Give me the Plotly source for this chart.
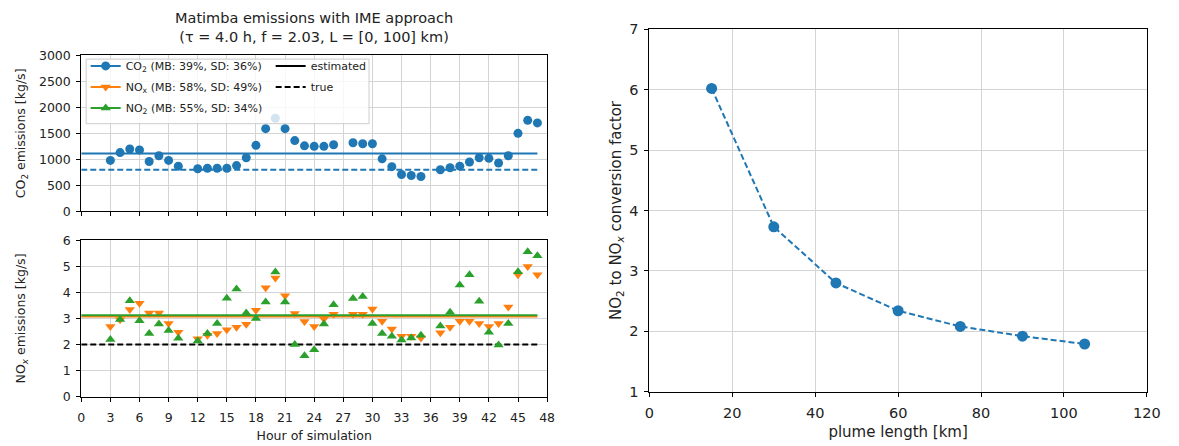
import plotly.graph_objects as go

# ---- data -------------------------------------------------------------
hours = [3, 4, 5, 6, 7, 8, 9, 10,
         12, 13, 14, 15, 16, 17, 18, 19, 20, 21, 22, 23, 24, 25, 26,
         28, 29, 30, 31, 32, 33, 34, 35,
         37, 38, 39, 40, 41, 42, 43, 44, 45, 46, 47]

co2_emis = [980, 1130, 1200, 1180, 960, 1070, 980, 870,
            820, 830, 830, 830, 880, 1030, 1270, 1590, 1790, 1590, 1360, 1260, 1250, 1250, 1280,
            1320, 1300, 1300, 1010, 860, 710, 690, 670,
            800, 840, 870, 950, 1030, 1020, 930, 1070, 1500, 1750, 1700]

nox_emis = [2.69, 2.95, 3.34, 3.58, 3.21, 3.21, 2.81, 2.47,
            2.22, 2.35, 2.42, 2.57, 2.66, 2.78, 3.31, 4.18, 4.55, 3.87, 3.19, 2.88, 2.69, 2.98, 3.16,
            3.16, 3.16, 3.36, 2.89, 2.59, 2.32, 2.32, 2.25,
            2.45, 2.66, 2.89, 2.89, 2.81, 2.69, 2.81, 3.44, 4.68, 5.00, 4.68]

no2_emis = [2.19, 2.96, 3.68, 2.91, 2.42, 2.79, 2.54, 2.24,
            2.13, 2.42, 2.81, 3.78, 4.13, 3.21, 3.00, 3.63, 4.78, 3.63, 2.00, 1.57, 1.80, 2.79, 3.53,
            3.77, 3.84, 2.81, 2.42, 2.32, 2.17, 2.25, 2.35,
            2.71, 3.24, 4.28, 4.68, 3.66, 2.47, 1.98, 2.81, 4.79, 5.56, 5.41]

co2_estimated = 1112
co2_true = 800
nox_estimated = 3.07
no2_estimated = 3.12
nox_true = 2.0
line_span = [0, 47]

plume_length = [15, 30, 45, 60, 75, 90, 105]
conversion_factor = [6.02, 3.73, 2.80, 2.34, 2.08, 1.92, 1.79]

legend_labels = {
    "co2": "CO<sub>2</sub> (MB: 39%, SD: 36%)",
    "nox": "NO<sub>x</sub> (MB: 58%, SD: 49%)",
    "no2": "NO<sub>2</sub> (MB: 55%, SD: 34%)",
}

hour_ticks = list(range(0, 49, 3))

# ---- style ------------------------------------------------------------
W, H = 1179, 446
C_CO2, C_NOX, C_NO2 = "#1f77b4", "#ff7f0e", "#2ca02c"
FONT = "DejaVu Sans"
INK = "#222"
GRID = "#d4d4d4"
DASH = "6px,3px"


def px_x(p):
    return p / W


def px_y(p):
    return 1 - p / H


fig = go.Figure()

# top panel: CO2
fig.add_trace(go.Scatter(x=line_span, y=[co2_estimated] * 2, mode="lines",
                         line=dict(color=C_CO2, width=2), showlegend=False,
                         xaxis="x", yaxis="y"))
fig.add_trace(go.Scatter(x=line_span, y=[co2_true] * 2, mode="lines",
                         line=dict(color=C_CO2, width=2, dash=DASH), showlegend=False,
                         xaxis="x", yaxis="y"))
fig.add_trace(go.Scatter(x=hours, y=co2_emis, mode="markers",
                         marker=dict(color=C_CO2, size=9, symbol="circle"),
                         showlegend=False, xaxis="x", yaxis="y"))

# bottom panel: NOx and NO2
fig.add_trace(go.Scatter(x=line_span, y=[nox_true] * 2, mode="lines",
                         line=dict(color="black", width=2, dash=DASH), showlegend=False,
                         xaxis="x2", yaxis="y2"))
fig.add_trace(go.Scatter(x=line_span, y=[nox_estimated] * 2, mode="lines",
                         line=dict(color=C_NOX, width=2), showlegend=False,
                         xaxis="x2", yaxis="y2"))
fig.add_trace(go.Scatter(x=hours, y=nox_emis, mode="markers",
                         marker=dict(color=C_NOX, size=9, symbol="triangle-down"),
                         showlegend=False, xaxis="x2", yaxis="y2"))
fig.add_trace(go.Scatter(x=line_span, y=[no2_estimated] * 2, mode="lines",
                         line=dict(color=C_NO2, width=2), showlegend=False,
                         xaxis="x2", yaxis="y2"))
fig.add_trace(go.Scatter(x=hours, y=no2_emis, mode="markers",
                         marker=dict(color=C_NO2, size=9, symbol="triangle-up"),
                         showlegend=False, xaxis="x2", yaxis="y2"))

# right panel: conversion factor
fig.add_trace(go.Scatter(x=plume_length, y=conversion_factor, mode="lines+markers",
                         line=dict(color=C_CO2, width=2, dash=DASH),
                         marker=dict(color=C_CO2, size=11),
                         showlegend=False, xaxis="x3", yaxis="y3"))

# legend entries
for key, col, sym, grp in [("co2", C_CO2, "circle", "g1"),
                           ("nox", C_NOX, "triangle-down", "g2"),
                           ("no2", C_NO2, "triangle-up", "g3")]:
    fig.add_trace(go.Scatter(x=[None], y=[None], mode="lines+markers",
                             name=legend_labels[key], legendgroup=grp,
                             line=dict(color=col, width=2),
                             marker=dict(color=col, size=9, symbol=sym),
                             xaxis="x", yaxis="y", legend="legend"))
for name, dash, grp in [("estimated", "solid", "h1"), ("true", DASH, "h2")]:
    fig.add_trace(go.Scatter(x=[None], y=[None], mode="lines", name=name,
                             legendgroup=grp,
                             line=dict(color="black", width=2, dash=dash),
                             xaxis="x", yaxis="y", legend="legend2"))


def axis_style(size):
    return dict(showline=True, linecolor="black", linewidth=1, mirror=True,
                ticks="outside", ticklen=4, tickwidth=1, tickcolor="black",
                showgrid=True, gridcolor=GRID, gridwidth=1, zeroline=False,
                tickfont=dict(family=FONT, size=size, color=INK))


left_ax = axis_style(12.5)
right_ax = axis_style(14.5)
left_title = dict(family=FONT, size=12.5, color=INK)
right_title = dict(family=FONT, size=15, color=INK)

left_dom = [px_x(77.5), px_x(551)]
fig.update_layout(
    width=W, height=H,
    margin=dict(l=0, r=0, t=0, b=0),
    paper_bgcolor="white", plot_bgcolor="white",
    font=dict(family=FONT, size=12, color=INK),
    xaxis=dict(domain=left_dom, range=[0, 48], tickvals=hour_ticks,
               showticklabels=False, anchor="y", **left_ax),
    yaxis=dict(domain=[px_y(211), px_y(49)], range=[0, 3000], dtick=500,
               anchor="x", ticklabelstandoff=3,
               title=dict(text="CO<sub>2</sub> emissions [kg/s]", font=left_title, standoff=10),
               **left_ax),
    xaxis2=dict(domain=left_dom, range=[0, 48], tickvals=hour_ticks, anchor="y2",
                ticklabelstandoff=5,
                title=dict(text="Hour of simulation", font=left_title, standoff=7),
                **left_ax),
    yaxis2=dict(domain=[px_y(403), px_y(241)], range=[0, 6], dtick=1, anchor="x2",
                ticklabelstandoff=3,
                title=dict(text="NO<sub><i>x</i></sub> emissions [kg/s]", font=left_title, standoff=34),
                **left_ax),
    xaxis3=dict(domain=[px_x(655), px_x(1160.5)], range=[0, 120], dtick=20, anchor="y3",
                ticklabelstandoff=4,
                title=dict(text="plume length [km]", font=right_title, standoff=6),
                **right_ax),
    yaxis3=dict(domain=[px_y(398), px_y(22)], range=[1, 7], dtick=1, anchor="x3",
                ticklabelstandoff=3,
                title=dict(text="NO<sub>2</sub> to NO<sub><i>x</i></sub> conversion factor",
                           font=right_title, standoff=4),
                **right_ax),
    legend=dict(x=px_x(82), y=px_y(45), xanchor="left", yanchor="top",
                bgcolor="rgba(0,0,0,0)", borderwidth=0, tracegroupgap=2,
                font=dict(family=FONT, size=11, color=INK)),
    legend2=dict(x=px_x(270), y=px_y(45), xanchor="left", yanchor="top",
                 bgcolor="rgba(0,0,0,0)", borderwidth=0, tracegroupgap=2,
                 font=dict(family=FONT, size=11, color=INK)),
    shapes=[dict(type="rect", xref="paper", yref="paper", layer="above",
                 x0=px_x(82.5), x1=px_x(370), y0=px_y(120), y1=px_y(53),
                 fillcolor="rgba(255,255,255,0.8)",
                 line=dict(color="#cccccc", width=1))],
    annotations=[dict(text="Matimba emissions with IME approach<br>"
                           "(τ = 4.0 h, f = 2.03, L = [0, 100] km)",
                      xref="paper", yref="paper", x=px_x(314), y=px_y(0),
                      xanchor="center", yanchor="top", showarrow=False,
                      font=dict(family=FONT, size=14.5, color=INK))],
)

fig.write_html("out.html")
